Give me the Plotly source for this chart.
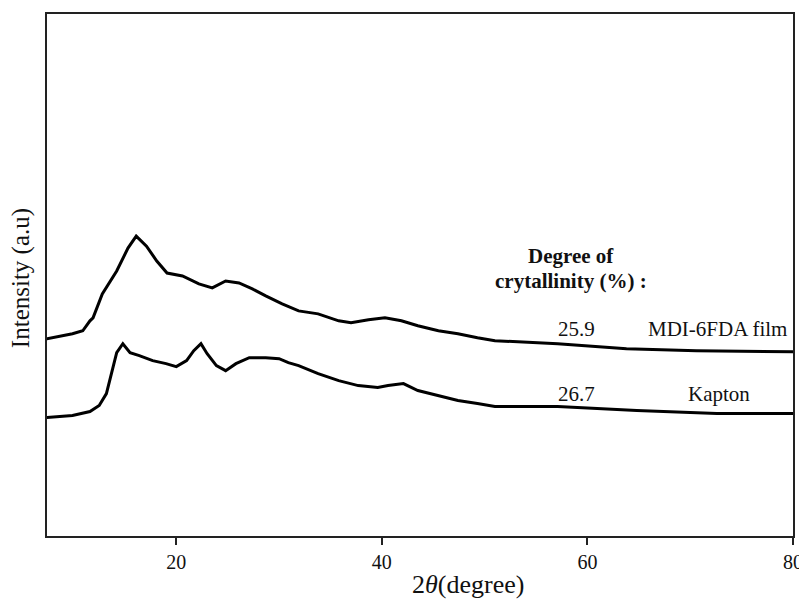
import plotly.graph_objects as go

# 2-theta (degree) and intensity (arbitrary units)
mdi_theta = [7.4, 9.9, 10.9, 11.6, 11.9, 12.8, 14.2, 15.3, 16.1, 17.1, 18.1, 19.1, 20.6,
             22.2, 23.5, 24.8, 26.1, 27.4, 28.7, 30.3, 31.9, 33.8, 35.8, 37.0, 38.7,
             40.3, 41.9, 43.5, 45.5, 47.4, 49.3, 51.0, 57.1, 63.8, 70.6, 80.0]
mdi_int = [198, 203, 206, 216, 219, 243, 266, 289, 301, 291, 276, 264, 261,
           253, 249, 256, 254, 248, 241, 233, 226, 223, 216, 214, 217,
           219, 216, 211, 206, 203, 199, 196, 193, 188, 186, 185]

kap_theta = [7.4, 9.9, 11.6, 12.5, 13.2, 13.7, 14.2, 14.8, 15.5, 16.4, 17.7, 19.0, 20.0,
             21.0, 21.7, 22.4, 23.0, 23.9, 24.8, 25.8, 27.1, 28.7, 30.0, 30.9, 31.9,
             33.8, 35.8, 37.7, 39.6, 40.6, 42.1, 43.5, 45.5, 47.4, 49.3, 51.0, 57.1,
             64.8, 72.6, 80.0]
kap_int = [119, 121, 125, 131, 143, 163, 184, 193, 184, 181, 176, 173, 170,
           176, 186, 193, 183, 171, 166, 173, 179, 179, 178, 174, 171,
           163, 156, 151, 149, 151, 153, 146, 141, 136, 133, 130, 130,
           126, 123, 123]

x_ticks = [20, 40, 60, 80]

FONT = "Liberation Serif"

fig = go.Figure()
fig.add_trace(go.Scatter(x=mdi_theta, y=mdi_int, mode="lines",
                         line=dict(color="black", width=3), name="MDI-6FDA film"))
fig.add_trace(go.Scatter(x=kap_theta, y=kap_int, mode="lines",
                         line=dict(color="black", width=3), name="Kapton"))

# page body has an 8px margin, so the figure is 8px smaller and offset
fig.update_layout(
    width=799, height=593,
    margin=dict(l=39, r=10, t=4, b=65),
    paper_bgcolor="white", plot_bgcolor="white",
    showlegend=False,
    font=dict(family=FONT, color="#111", size=20),
)
fig.update_xaxes(range=[7.42, 80], tickvals=x_ticks, ticks="outside", ticklen=7,
                 tickwidth=2, tickcolor="#222", showline=True, linecolor="#222",
                 linewidth=2, mirror=True, showgrid=False, zeroline=False,
                 tickfont=dict(family=FONT, size=20, color="#111"))
fig.update_yaxes(range=[0, 524], showticklabels=False, ticks="", showline=True,
                 linecolor="#222", linewidth=2, mirror=True, showgrid=False,
                 zeroline=False)

def ann(text, px, py, size=21, bold=False, angle=0):
    # px, py given in page pixels of the reference
    if bold:
        text = "<b>" + text + "</b>"
    fig.add_annotation(text=text, xref="paper", yref="paper",
                       x=(px - 47) / 750, y=(536 - py) / 524,
                       showarrow=False, textangle=angle, xanchor="center", yanchor="middle",
                       font=dict(family=FONT, size=size, color="#111"))

ann("Degree of", 574, 255, bold=True)
ann("crytallinity (%) :", 574, 280, bold=True)
ann("25.9", 579, 328)
ann("MDI-6FDA film", 721, 328)
ann("26.7", 579, 393)
ann("Kapton", 723, 393)
ann("2<i>θ</i>(degree)", 470, 585, size=26)
ann("Intensity (a.u)", 21, 277, size=25, angle=-90)

fig.write_html("out.html")
